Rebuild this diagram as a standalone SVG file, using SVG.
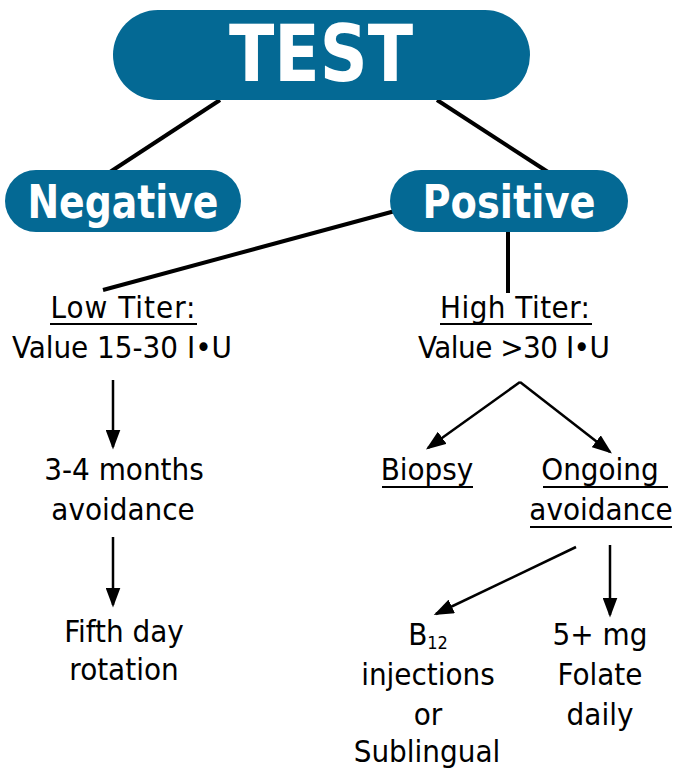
<svg xmlns="http://www.w3.org/2000/svg" width="675" height="770" viewBox="0 0 675 770">
<style>
.pill{fill:#046994}
.pt{font-family:"DejaVu Sans Condensed","DejaVu Sans",sans-serif;font-weight:bold;fill:#fff;text-anchor:middle}
.t{font-family:"DejaVu Sans Condensed","DejaVu Sans",sans-serif;font-size:31px;fill:#000;text-anchor:middle}
.c{stroke:#000;stroke-width:4;fill:none}
.a{stroke:#000;stroke-width:2.5;fill:none;marker-end:url(#ah)}
.u{stroke:#000;stroke-width:2}
</style>
<defs>
<marker id="ah" markerWidth="8" markerHeight="6" refX="7" refY="3" orient="auto" markerUnits="strokeWidth">
<path d="M0,0 L8,3 L0,6 Z" fill="#000"/>
</marker>
</defs>
<g id="connectors">
<line class="c" x1="220" y1="100" x2="110" y2="172"/>
<line class="c" x1="437" y1="100" x2="548" y2="172"/>
<line class="c" x1="395" y1="211" x2="103" y2="290"/>
<line class="c" x1="508" y1="230" x2="508" y2="293"/>
<line class="a" x1="113" y1="380" x2="113" y2="447"/>
<line class="a" x1="113" y1="537" x2="113" y2="605"/>
<line class="a" x1="520" y1="382" x2="428" y2="448"/>
<line class="a" x1="520" y1="382" x2="610" y2="452"/>
<line class="a" x1="576" y1="547" x2="436" y2="614"/>
<line class="a" x1="610" y1="545" x2="610" y2="615"/>
</g>
<g id="test">
<rect class="pill" x="113" y="10" width="417" height="90" rx="45"/>
<text class="pt" x="321" y="81" font-size="79" textLength="184" lengthAdjust="spacingAndGlyphs">TEST</text>
</g>
<g id="negative">
<rect class="pill" x="5" y="170" width="236" height="62" rx="31"/>
<text class="pt" x="123" y="218" font-size="46" textLength="191" lengthAdjust="spacingAndGlyphs">Negative</text>
</g>
<g id="positive">
<rect class="pill" x="390" y="170" width="238" height="62" rx="31"/>
<text class="pt" x="509" y="218" font-size="46" textLength="173" lengthAdjust="spacingAndGlyphs">Positive</text>
</g>
<g id="low">
<text class="t" x="123" y="318" textLength="145">Low Titer:</text>
<line class="u" x1="50" y1="324" x2="197" y2="324"/>
<text class="t" x="122" y="358" textLength="220">Value 15-30 I•U</text>
</g>
<g id="high">
<text class="t" x="515" y="318" textLength="150">High Titer:</text>
<line class="u" x1="440" y1="324" x2="592" y2="324"/>
<text class="t" x="514" y="358" textLength="192">Value &gt;30 I•U</text>
</g>
<g id="months">
<text class="t" x="124" y="480">3-4 months</text>
<text class="t" x="123" y="520">avoidance</text>
</g>
<g id="fifth">
<text class="t" x="124" y="642">Fifth day</text>
<text class="t" x="124" y="680">rotation</text>
</g>
<g id="biopsy">
<text class="t" x="427" y="480">Biopsy</text>
<line class="u" x1="382" y1="487" x2="473" y2="487"/>
</g>
<g id="ongoing">
<text class="t" x="600" y="480">Ongoing</text>
<line class="u" x1="543" y1="487" x2="668" y2="487"/>
<text class="t" x="601" y="520">avoidance</text>
<line class="u" x1="530" y1="527" x2="672" y2="527"/>
</g>
<g id="b12">
<text class="t" x="428" y="645">B<tspan font-size="18" dy="4">12</tspan></text>
<text class="t" x="428" y="685">injections</text>
<text class="t" x="428" y="725">or</text>
<text class="t" x="427" y="762">Sublingual</text>
</g>
<g id="folate">
<text class="t" x="600" y="645">5+ mg</text>
<text class="t" x="600" y="685">Folate</text>
<text class="t" x="600" y="725">daily</text>
</g>
</svg>
